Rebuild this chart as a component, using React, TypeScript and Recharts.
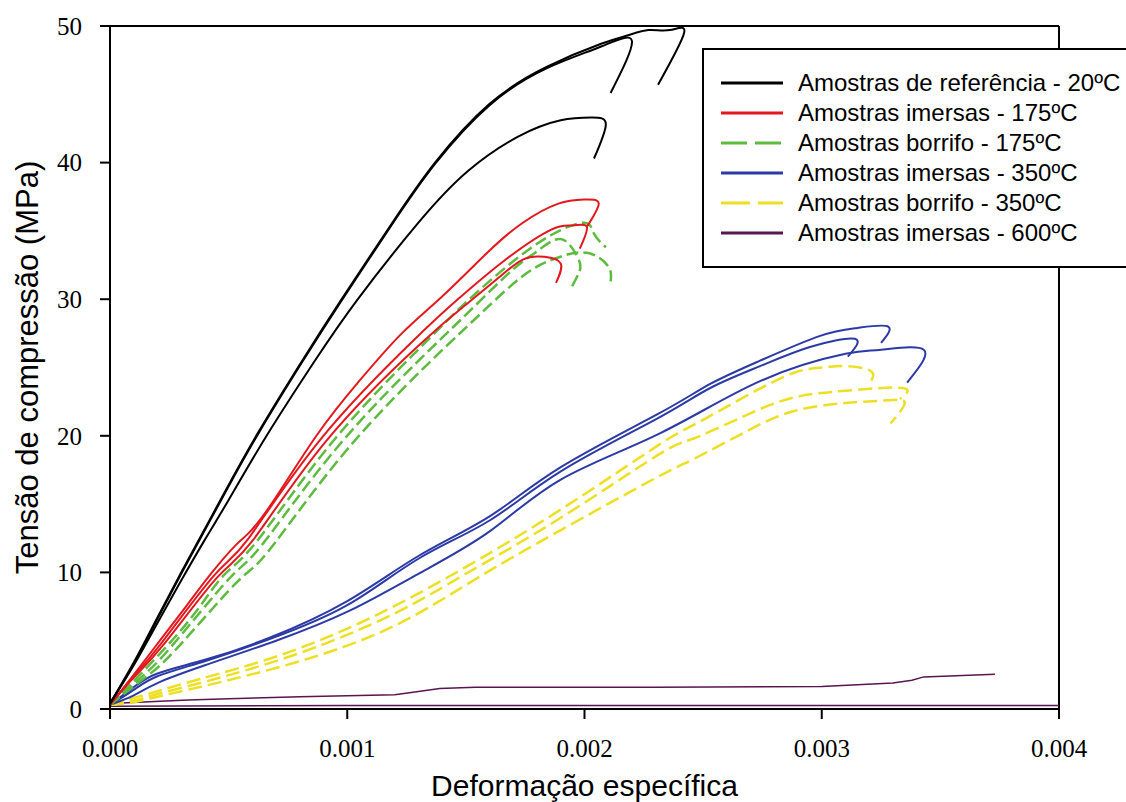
import { LineChart, Line, XAxis, YAxis, ReferenceLine, Legend, Label } from 'recharts';

type Pt = [number, number];

const xTicks = [0, 0.001, 0.002, 0.003, 0.004];
const yTicks = [0, 10, 20, 30, 40, 50];

// referência 20ºC
const ref20A: Pt[] = [[0, 0.4], [0.0001, 3.3], [0.0002, 6.6], [0.0003, 9.9], [0.0004, 13.1], [0.0005, 16.3], [0.00063, 20.3], [0.00081, 25.4], [0.00098, 30], [0.00119, 35.5], [0.00137, 39.9], [0.0016, 44.2], [0.00184, 46.9], [0.00207, 48.5], [0.0022, 48.9], [0.00211, 45.1]];
const ref20B: Pt[] = [[0, 0.4], [0.0001, 3.4], [0.0002, 6.7], [0.0003, 10], [0.0004, 13.2], [0.0005, 16.4], [0.00063, 20.4], [0.00081, 25.5], [0.00098, 30.1], [0.00119, 35.6], [0.00137, 40], [0.0016, 44.3], [0.00184, 47], [0.00207, 48.7], [0.00218, 49.3], [0.00227, 49.7], [0.00236, 49.7], [0.00242, 49.5], [0.00231, 45.7]];
const ref20C: Pt[] = [[0, 0.4], [0.0001, 3.2], [0.0002, 6.3], [0.0003, 9.4], [0.0004, 12.4], [0.0005, 15.3], [0.00066, 20], [0.00086, 25.4], [0.00104, 29.9], [0.0013, 35.6], [0.00151, 39.4], [0.00172, 41.9], [0.0019, 43.1], [0.00203, 43.3], [0.00209, 42.8], [0.00204, 40.3]];

// imersas 175ºC
const im175A: Pt[] = [[0, 0.3], [0.0001, 2.5], [0.00021, 5], [0.00032, 7.5], [0.00043, 10], [0.00053, 12], [0.00058, 12.8], [0.00068, 15], [0.00087, 20], [0.00105, 24], [0.00123, 27.5], [0.0014, 30.2], [0.00159, 33.4], [0.00174, 35.6], [0.00189, 37], [0.002, 37.3], [0.00206, 37], [0.00201, 35.3]];
const im175B: Pt[] = [[0, 0.3], [0.0001, 2.4], [0.00022, 4.9], [0.00044, 9.8], [0.00058, 12.4], [0.00089, 19.8], [0.00128, 27], [0.00146, 29.9], [0.00166, 32.8], [0.00186, 35.1], [0.00195, 35.4], [0.00201, 35.3], [0.00198, 33.7]];
const im175C: Pt[] = [[0, 0.3], [0.0001, 2.3], [0.00023, 4.8], [0.00045, 9.6], [0.0006, 12.3], [0.00091, 19.6], [0.0013, 26.6], [0.0015, 29.6], [0.00164, 31.6], [0.00174, 32.9], [0.00183, 33.1], [0.0019, 32.6], [0.00188, 31.2]];

// borrifo 175ºC
const bo175A: Pt[] = [[0, 0.3], [0.00012, 2.4], [0.00025, 4.8], [0.00037, 7.3], [0.00048, 9.8], [0.00062, 12.3], [0.00094, 19.6], [0.00131, 26.5], [0.00149, 29.6], [0.00168, 32.5], [0.00186, 34.7], [0.002, 35.6], [0.00204, 34.8], [0.00209, 33.8]];
const bo175B: Pt[] = [[0, 0.3], [0.00013, 2.3], [0.00026, 4.6], [0.0005, 9.5], [0.00064, 12], [0.00096, 19.2], [0.00133, 26], [0.00152, 29.2], [0.0017, 32.2], [0.0018, 33.5], [0.0019, 34.4], [0.00197, 33.1], [0.00198, 32.1], [0.00194, 30.7]];
const bo175C: Pt[] = [[0, 0.3], [0.00014, 2.2], [0.00028, 4.4], [0.00053, 9.2], [0.00067, 11.6], [0.00099, 18.8], [0.00136, 25.6], [0.00156, 28.9], [0.00174, 31.7], [0.00188, 33], [0.00201, 33.4], [0.0021, 32.4], [0.00211, 31.3]];

// imersas 350ºC
const im350A: Pt[] = [[0, 0.3], [0.0001, 1.6], [0.0002, 2.6], [0.0004, 3.6], [0.00067, 5.2], [0.001, 7.9], [0.0013, 11.2], [0.0016, 14.1], [0.0019, 17.7], [0.00231, 21.6], [0.00253, 23.8], [0.00274, 25.5], [0.00299, 27.3], [0.00315, 27.9], [0.00328, 28], [0.00325, 26.8]];
const im350B: Pt[] = [[0, 0.3], [0.0001, 1.4], [0.0002, 2.4], [0.0004, 3.5], [0.00067, 5.1], [0.001, 7.6], [0.0013, 11], [0.0016, 13.8], [0.0019, 17.4], [0.00231, 21.3], [0.00253, 23.5], [0.00274, 25.1], [0.00295, 26.5], [0.00314, 27.1], [0.00311, 25.8]];
const im350C: Pt[] = [[0, 0.3], [0.0001, 1], [0.0002, 1.9], [0.0004, 3.2], [0.0007, 5], [0.00101, 7.2], [0.0013, 9.9], [0.0016, 13], [0.0019, 16.8], [0.00232, 20.2], [0.00274, 24], [0.0031, 26], [0.00325, 26.3], [0.00343, 26.3], [0.00336, 23.9]];

// borrifo 350ºC
const bo350A: Pt[] = [[0, 0.3], [0.0001, 0.8], [0.0002, 1.3], [0.00038, 2.2], [0.00071, 3.9], [0.00109, 6.6], [0.00147, 10.1], [0.0019, 14.6], [0.00231, 19.3], [0.00246, 20.8], [0.00268, 22.9], [0.00288, 24.6], [0.003, 25], [0.00311, 25.1], [0.00321, 24.7], [0.0032, 23.8]];
const bo350B: Pt[] = [[0, 0.3], [0.0001, 0.6], [0.0002, 1.1], [0.0004, 2], [0.0008, 4.1], [0.0012, 7], [0.0015, 9.9], [0.0019, 14], [0.00231, 18.6], [0.00246, 19.8], [0.00268, 21.5], [0.00288, 22.8], [0.0031, 23.3], [0.00334, 23.5], [0.00333, 22.7]];
const bo350C: Pt[] = [[0, 0.3], [0.0001, 0.5], [0.0002, 0.9], [0.0004, 1.7], [0.0008, 3.5], [0.0012, 6.1], [0.00154, 9.5], [0.0019, 13.1], [0.00231, 17], [0.00246, 18.3], [0.00268, 20.3], [0.00288, 21.8], [0.0031, 22.4], [0.00328, 22.6], [0.00335, 22.4], [0.00329, 20.9]];

// imersas 600ºC
const im600A: Pt[] = [[0, 0.4], [0.00033, 0.65], [0.0005, 0.75], [0.0008, 0.9], [0.0012, 1.05], [0.00127, 1.2], [0.00139, 1.5], [0.00154, 1.6], [0.0023, 1.6], [0.003, 1.65], [0.0033, 1.9], [0.00338, 2.1], [0.00343, 2.35], [0.00373, 2.55]];
const im600B: Pt[] = [[0, 0.2], [0.001, 0.25], [0.002, 0.25], [0.003, 0.25], [0.004, 0.25]];

const groups = [
  { name: 'Amostras de referência - 20ºC', color: '#000000', width: 2, curve: 'natural', dash: undefined, legendDash: undefined, curves: [ref20A, ref20B, ref20C] },
  { name: 'Amostras imersas - 175ºC', color: '#e3171e', width: 2, curve: 'natural', dash: undefined, legendDash: undefined, curves: [im175A, im175B, im175C] },
  { name: 'Amostras borrifo - 175ºC', color: '#5dbb3f', width: 2.5, curve: 'natural', dash: '12 5', legendDash: '26 8', curves: [bo175A, bo175B, bo175C] },
  { name: 'Amostras imersas - 350ºC', color: '#2b3aa6', width: 2, curve: 'natural', dash: undefined, legendDash: undefined, curves: [im350A, im350B, im350C] },
  { name: 'Amostras borrifo - 350ºC', color: '#ede024', width: 2.5, curve: 'natural', dash: '14 6', legendDash: '29 8', curves: [bo350A, bo350B, bo350C] },
  { name: 'Amostras imersas - 600ºC', color: '#5a1450', width: 1.5, curve: 'linear', dash: undefined, legendDash: undefined, curves: [im600A, im600B] },
] as const;

const toRows = (pts: readonly Pt[]) => pts.map(([x, y]) => ({ x, y }));

const sans = 'Arial, "Liberation Sans", sans-serif';
const serif = '"Times New Roman", "Liberation Serif", serif';

function LegendBox() {
  return (
    <div
      style={{
        border: '2px solid #000',
        background: '#fff',
        width: 440,
        height: 220,
        boxSizing: 'border-box',
        padding: '18px 0 0 17px',
        fontFamily: sans,
        fontSize: 24,
        color: '#000',
      }}
    >
      {groups.map((g) => (
        <div key={g.name} style={{ display: 'flex', alignItems: 'center', height: 30, whiteSpace: 'nowrap' }}>
          <svg width={62} height={6} style={{ flex: 'none' }}>
            <line x1={0} y1={3} x2={62} y2={3} stroke={g.color} strokeWidth={3} strokeDasharray={g.legendDash} />
          </svg>
          <span style={{ marginLeft: 15, lineHeight: '30px' }}>{g.name}</span>
        </div>
      ))}
    </div>
  );
}

export default function App() {
  return (
    <div style={{ position: 'absolute', left: 0, top: 0, width: 1126, height: 802, overflow: 'hidden', background: '#fff' }}>
      <LineChart width={1126} height={802} margin={{ top: 26, right: 67, left: 0, bottom: 0 }}>
        <XAxis
          dataKey="x"
          type="number"
          domain={[0, 0.004]}
          ticks={xTicks}
          tickFormatter={(v: number) => v.toFixed(3)}
          height={93}
          tickSize={10}
          tickMargin={20}
          axisLine={{ stroke: '#000', strokeWidth: 2 }}
          tickLine={{ stroke: '#000', strokeWidth: 2 }}
          tick={{ fill: '#000', fontSize: 25, fontFamily: serif }}
        >
          <Label value="Deformação específica" position="insideBottom" offset={6} fill="#000" style={{ fontFamily: sans, fontSize: 30, fill: '#000' }} />
        </XAxis>
        <YAxis
          type="number"
          domain={[0, 50]}
          ticks={yTicks}
          width={110}
          tickSize={10}
          tickMargin={18}
          axisLine={{ stroke: '#000', strokeWidth: 2 }}
          tickLine={{ stroke: '#000', strokeWidth: 2 }}
          tick={{ fill: '#000', fontSize: 25, fontFamily: serif }}
        >
          <Label
            value="Tensão de compressão (MPa)"
            angle={-90}
            position="insideLeft"
            offset={27}
            fill="#000"
            style={{ fontFamily: sans, fontSize: 31, fill: '#000', textAnchor: 'middle' }}
          />
        </YAxis>
        <ReferenceLine y={50} stroke="#000" strokeWidth={2} />
        <ReferenceLine x={0.004} stroke="#000" strokeWidth={2} />
        {groups
          .slice()
          .reverse()
          .flatMap((g) =>
            g.curves.map((c, ci) => (
              <Line
                key={`${g.name}-${ci}`}
                data={toRows(c)}
                dataKey="y"
                type={g.curve}
                stroke={g.color}
                strokeWidth={g.width}
                strokeDasharray={g.dash}
                dot={false}
                activeDot={false}
                legendType="none"
                isAnimationActive={false}
              />
            ))
          )}
        <Legend
          layout="vertical"
          align="center"
          verticalAlign="middle"
          wrapperStyle={{ left: 702, top: 48, width: 440 }}
          content={() => <LegendBox />}
        />
      </LineChart>
    </div>
  );
}
